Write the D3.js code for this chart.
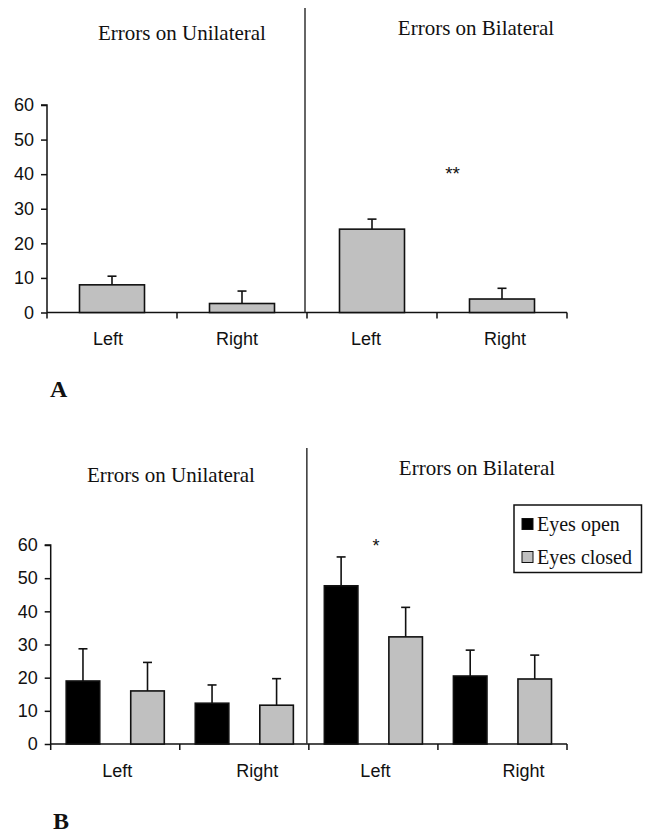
<!DOCTYPE html>
<html>
<head>
<meta charset="utf-8">
<script src="https://cdn.jsdelivr.net/npm/d3@7"></script>
<style>
  html, body { margin: 0; padding: 0; background: #fff; }
  svg { display: block; }
</style>
</head>
<body>
<svg id="chart" width="653" height="838"></svg>
<script>
// ---------- DATA ----------
const categoryKeys = ["U-Left", "U-Right", "B-Left", "B-Right"];
const categoryLabels = ["Left", "Right", "Left", "Right"];
const panelTitles = ["Errors on Unilateral", "Errors on Bilateral"];
const yTicks = [0, 10, 20, 30, 40, 50, 60];

// Panel A
const valuesA = [8.0, 2.6, 24.1, 3.9];
const errorsA = [2.5, 3.6, 2.9, 3.1];

// Panel B
const seriesB = ["Eyes open", "Eyes closed"];
const valuesOpen = [19.0, 12.3, 47.7, 20.5];
const errorsOpen = [9.7, 5.5, 8.7, 7.8];
const valuesClosed = [16.0, 11.7, 32.3, 19.6];
const errorsClosed = [8.6, 8.0, 8.9, 7.2];

// significance annotations
const sigA = [{ key: "B-Left", label: "**", value: 41 }];
const sigB = [{ key: "B-Left", label: "*", value: 60.5 }];

// ---------- DRAW ----------
const svg = d3.select("#chart");
const sans = "'Liberation Sans', Arial, sans-serif";
const serif = "'Liberation Serif', 'Times New Roman', serif";
const grey = "#c0c0c0";

function drawAxes(g, x, y, dividerTop, labelDx) {
  const [x0, x1] = x.range();
  const y0 = y(0);
  // y axis
  const yAxis = d3.axisLeft(y).tickValues(yTicks).tickSize(6).tickPadding(7).tickFormat(d3.format("d"));
  const ya = g.append("g").attr("transform", `translate(${x0},0)`).call(yAxis);
  ya.select(".domain").attr("stroke", "#111").attr("stroke-width", 1.5).attr("d", `M-6,${y(60)}H0V${y0}`);
  ya.selectAll(".tick line").attr("stroke", "#111").attr("stroke-width", 1.5);
  ya.selectAll(".tick text").attr("font-family", sans).attr("font-size", 18).attr("fill", "#111");

  // x axis
  const xAxis = d3.axisBottom(x).tickSize(0).tickPadding(20).tickFormat((d, i) => categoryLabels[i]);
  const xa = g.append("g").attr("transform", `translate(0,${y0})`).call(xAxis);
  xa.select(".domain").attr("stroke", "#111").attr("stroke-width", 1.5).attr("d", `M${x0},0H${x1}`);
  xa.selectAll(".tick text").attr("font-family", sans).attr("font-size", 18).attr("fill", "#111")
    .attr("dx", (d, i) => labelDx[i]);
  // category boundary ticks
  g.append("g").selectAll("line").data(categoryKeys).join("line")
    .attr("x1", d => x(d) + x.bandwidth()).attr("x2", d => x(d) + x.bandwidth())
    .attr("y1", y0).attr("y2", y0 + 6)
    .attr("stroke", "#111").attr("stroke-width", 1.5);
  g.append("line").attr("x1", x0).attr("x2", x0).attr("y1", y0).attr("y2", y0 + 6)
    .attr("stroke", "#111").attr("stroke-width", 1.5);

  // divider between Unilateral and Bilateral
  const xd = x("B-Left") - 2;
  g.append("line").attr("x1", xd).attr("x2", xd).attr("y1", dividerTop).attr("y2", y0)
    .attr("stroke", "#333").attr("stroke-width", 1.5);
}

function drawBar(g, xl, w, y, v, e, fill) {
  const top = y(v + e);
  const cx = xl + w / 2;
  g.append("line").attr("x1", cx).attr("x2", cx).attr("y1", y(v)).attr("y2", top)
    .attr("stroke", "#111").attr("stroke-width", 1.6);
  g.append("line").attr("x1", cx - 4.5).attr("x2", cx + 4.5).attr("y1", top).attr("y2", top)
    .attr("stroke", "#111").attr("stroke-width", 1.6);
  g.append("rect").attr("x", xl).attr("y", y(v)).attr("width", w).attr("height", y(0) - y(v))
    .attr("fill", fill).attr("stroke", "#111").attr("stroke-width", 1.6);
}

// ----- Panel A -----
const gA = svg.append("g");
const xA = d3.scaleBand().domain(categoryKeys).range([47, 567]).padding(0);
const yA = d3.scaleLinear().domain([0, 60]).range([312.5, 105]);
drawAxes(gA, xA, yA, 8, [-4, -5, -6, 3]);
categoryKeys.forEach((k, i) => {
  const w = xA.bandwidth() * 0.5;
  drawBar(gA, xA(k) + (xA.bandwidth() - w) / 2, w, yA, valuesA[i], errorsA[i], grey);
});
sigA.forEach(s => {
  gA.append("text").attr("x", xA(s.key) + xA.bandwidth() * 1.12).attr("y", yA(s.value) + 9)
    .attr("text-anchor", "middle").attr("font-family", sans).attr("font-size", 19).attr("fill", "#111")
    .text(s.label);
});
gA.append("text").attr("x", 182).attr("y", 40).attr("text-anchor", "middle")
  .attr("font-family", serif).attr("font-size", 21).attr("fill", "#111").text(panelTitles[0]);
gA.append("text").attr("x", 476).attr("y", 35).attr("text-anchor", "middle")
  .attr("font-family", serif).attr("font-size", 21).attr("fill", "#111").text(panelTitles[1]);
gA.append("text").attr("x", 50).attr("y", 397).attr("font-family", serif).attr("font-weight", "bold")
  .attr("font-size", 24).attr("fill", "#111").text("A");

// ----- Panel B -----
const gB = svg.append("g");
const xB = d3.scaleBand().domain(categoryKeys).range([50.7, 567]).padding(0);
const yB = d3.scaleLinear().domain([0, 60]).range([744, 545]);
const subB = d3.scaleBand().domain(seriesB).range([0, xB.bandwidth()]).padding(0);
drawAxes(gB, xB, yB, 448, [2, 13, 2, 21]);
const fillsB = { "Eyes open": "#000", "Eyes closed": grey };
categoryKeys.forEach((k, i) => {
  const w = subB.bandwidth() * 0.52;
  drawBar(gB, xB(k) + subB("Eyes open") + (subB.bandwidth() - w) / 2, w, yB, valuesOpen[i], errorsOpen[i], fillsB["Eyes open"]);
  drawBar(gB, xB(k) + subB("Eyes closed") + (subB.bandwidth() - w) / 2, w, yB, valuesClosed[i], errorsClosed[i], fillsB["Eyes closed"]);
});
sigB.forEach(s => {
  gB.append("text").attr("x", xB(s.key) + xB.bandwidth() * 0.52).attr("y", yB(s.value) + 9)
    .attr("text-anchor", "middle").attr("font-family", sans).attr("font-size", 18).attr("fill", "#111")
    .text(s.label);
});
gB.append("text").attr("x", 171).attr("y", 482).attr("text-anchor", "middle")
  .attr("font-family", serif).attr("font-size", 21).attr("fill", "#111").text(panelTitles[0]);
gB.append("text").attr("x", 477).attr("y", 475).attr("text-anchor", "middle")
  .attr("font-family", serif).attr("font-size", 21).attr("fill", "#111").text(panelTitles[1]);
gB.append("text").attr("x", 53).attr("y", 829).attr("font-family", serif).attr("font-weight", "bold")
  .attr("font-size", 24).attr("fill", "#111").text("B");

// legend
const lg = gB.append("g").attr("transform", "translate(514,505)");
lg.append("rect").attr("width", 127.5).attr("height", 67.5).attr("fill", "#fff")
  .attr("stroke", "#111").attr("stroke-width", 1.5);
seriesB.forEach((s, i) => {
  const yy = 19 + i * 33;
  lg.append("rect").attr("x", 8).attr("y", yy - 5.5).attr("width", 11).attr("height", 11)
    .attr("fill", fillsB[s]).attr("stroke", "#111").attr("stroke-width", 1);
  lg.append("text").attr("x", 23).attr("y", yy + 6.5).attr("font-family", serif).attr("font-size", 20)
    .attr("fill", "#111").text(s);
});
</script>
</body>
</html>
